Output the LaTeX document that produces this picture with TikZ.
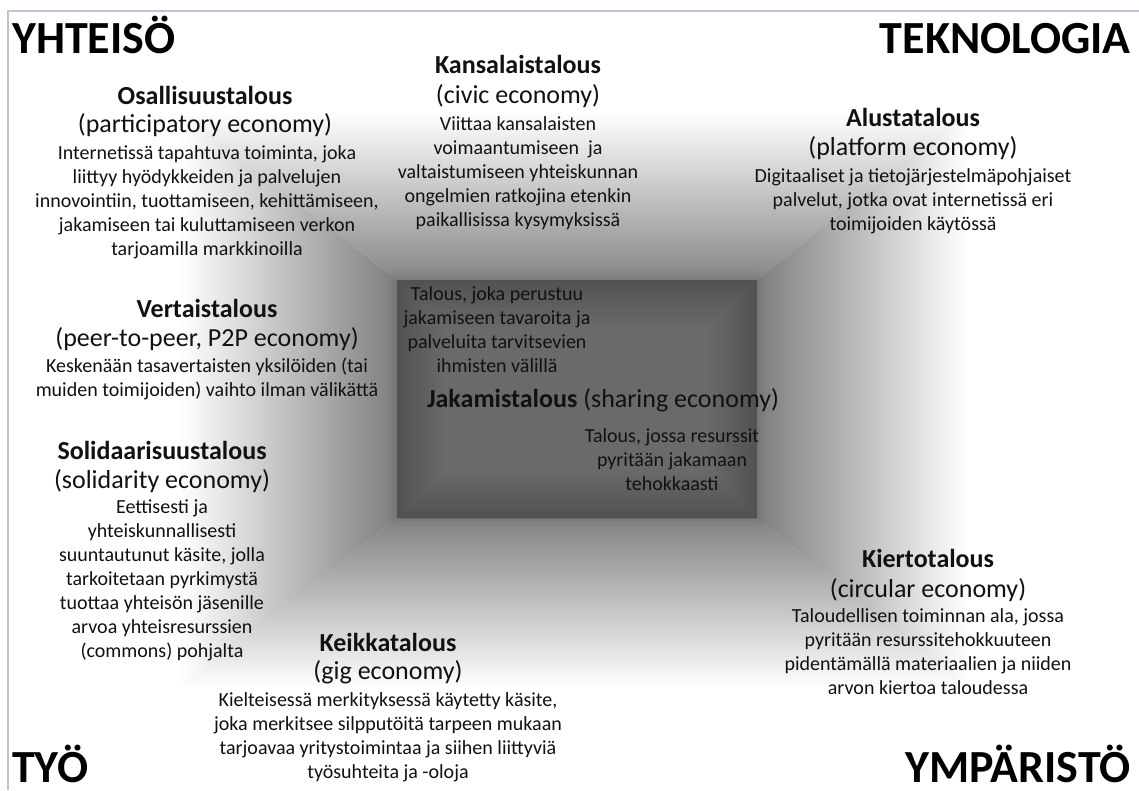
\documentclass[tikz,border=0pt]{standalone}
\usepackage{fontspec}
\setmainfont{Carlito}
\definecolor{ink}{HTML}{111111}
\definecolor{framec}{HTML}{B8C6D8}
\definecolor{topin}{HTML}{868686}
\definecolor{topmid}{HTML}{C2C2C2}
\definecolor{sidein}{HTML}{7E7E7E}
\definecolor{sidemid}{HTML}{C0C0C0}
\definecolor{botin}{HTML}{828282}
\definecolor{botmid}{HTML}{C2C2C2}
\definecolor{corefill}{HTML}{6A6A6A}
\begin{document}
\begin{tikzpicture}[x=1pt,y=-1pt,
  title/.style={font=\fontsize{26}{31}\selectfont\bfseries, inner sep=0pt, text=ink},
  sub/.style={font=\fontsize{26}{31}\selectfont, inner sep=0pt, text=ink},
  body/.style={font=\fontsize{20}{24}\selectfont, inner sep=0pt, align=center, text=ink, anchor=north},
  corner/.style={font=\fontsize{46}{54}\selectfont\bfseries, inner sep=0pt, text=black, anchor=base},
]
\useasboundingbox (0,0) rectangle (1139,790);
\fill[white] (0,0) rectangle (1139,790);

% outer and inner rectangle of the shaded box interior
\coordinate (oTL) at (180,112);
\coordinate (oTR) at (968,112);
\coordinate (oBR) at (968,688);
\coordinate (oBL) at (180,688);
\coordinate (iTL) at (397,280);
\coordinate (iTR) at (757,280);
\coordinate (iBR) at (757,518);
\coordinate (iBL) at (397,518);

% four bevelled walls
\shade[top color=white, middle color=topmid, bottom color=topin] (oTL) -- (oTR) -- (iTR) -- (iTL) -- cycle;
\shade[bottom color=white, middle color=botmid, top color=botin] (oBL) -- (oBR) -- (iBR) -- (iBL) -- cycle;
\shade[left color=white, middle color=sidemid, right color=sidein] (oTL) -- (iTL) -- (iBL) -- (oBL) -- cycle;
\shade[right color=white, middle color=sidemid, left color=sidein] (oTR) -- (iTR) -- (iBR) -- (oBR) -- cycle;

% back face with a soft dark rim, built from many faint strokes
\fill[corefill] (iTL) -- (iTR) -- (iBR) -- (iBL) -- cycle;
\begin{scope}
  \clip (iTL) -- (iTR) -- (iBR) -- (iBL) -- cycle;
  \foreach \i in {1,...,24}
    \draw[black, opacity=0.009, line width=4*\i pt] (iTL) -- (iTR) -- (iBR) -- (iBL) -- cycle;
\end{scope}
% blur the seam between walls and back face
\foreach \i in {1,...,8}
  \draw[corefill, opacity=0.035, line width=2.5*\i pt, line join=round] (iTL) -- (iTR) -- (iBR) -- (iBL) -- cycle;

% thin page frame
\coordinate (fBL) at (8,790);
\coordinate (fTL) at (8,11);
\coordinate (fTR) at (1139,11);
\draw[framec, line width=1.2pt] (fBL) -- (fTL) -- (fTR);

% corner headings
\node[corner, anchor=base west] (yhteiso) at (12,53) {YHTEISÖ};
\node[corner, anchor=base east] (teknologia) at (1131,53) {TEKNOLOGIA};
\node[corner, anchor=base west] (tyo) at (12,782) {TYÖ};
\node[corner, anchor=base east] (ymparisto) at (1131,782) {YMPÄRISTÖ};

% participatory economy
\node[title] (osa) at (205,95) {Osallisuustalous};
\node[sub] (osa-en) at (205,125) {(participatory economy)};
\node[body] (osa-txt) at (207,145) {Internetissä tapahtuva toiminta, joka\\liittyy hyödykkeiden ja palvelujen\\innovointiin, tuottamiseen, kehittämiseen,\\jakamiseen tai kuluttamiseen verkon\\tarjoamilla markkinoilla};

% civic economy
\node[title] (kan) at (518,64) {Kansalaistalous};
\node[sub] (kan-en) at (518,96) {(civic economy)};
\node[body] (kan-txt) at (518,116) {Viittaa kansalaisten\\voimaantumiseen\ \ ja\\valtaistumiseen yhteiskunnan\\ongelmien ratkojina etenkin\\paikallisissa kysymyksissä};

% platform economy
\node[title] (alu) at (913,117) {Alustatalous};
\node[sub] (alu-en) at (913,148) {(platform economy)};
\node[body] (alu-txt) at (913,168) {Digitaaliset ja tietojärjestelmäpohjaiset\\palvelut, jotka ovat internetissä eri\\toimijoiden käytössä};

% peer-to-peer economy
\node[title] (ver) at (207,308) {Vertaistalous};
\node[sub] (ver-en) at (207,339) {(peer-to-peer, P2P economy)};
\node[body] (ver-txt) at (207,358) {Keskenään tasavertaisten yksilöiden (tai\\muiden toimijoiden) vaihto ilman välikättä};

% solidarity economy
\node[title] (sol) at (162,450) {Solidaarisuustalous};
\node[sub] (sol-en) at (162,481) {(solidarity economy)};
\node[body] (sol-txt) at (162,499) {Eettisesti ja\\yhteiskunnallisesti\\suuntautunut käsite, jolla\\tarkoitetaan pyrkimystä\\tuottaa yhteisön jäsenille\\arvoa yhteisresurssien\\(commons) pohjalta};

% gig economy
\node[title] (kei) at (388,642) {Keikkatalous};
\node[sub] (kei-en) at (388,672) {(gig economy)};
\node[body] (kei-txt) at (388,692) {Kielteisessä merkityksessä käytetty käsite,\\joka merkitsee silpputöitä tarpeen mukaan\\tarjoavaa yritystoimintaa ja siihen liittyviä\\työsuhteita ja -oloja};

% circular economy
\node[title] (kie) at (928,558) {Kiertotalous};
\node[sub] (kie-en) at (928,590) {(circular economy)};
\node[body] (kie-txt) at (928,608) {Taloudellisen toiminnan ala, jossa\\pyritään resurssitehokkuuteen\\pidentämällä materiaalien ja niiden\\arvon kiertoa taloudessa};

% sharing economy in the centre
\node[body] (jak-a) at (497,286) {Talous, joka perustuu\\jakamiseen tavaroita ja\\palveluita tarvitsevien\\ihmisten välillä};
\node[sub] (jak) at (603,400) {\textbf{Jakamistalous} (sharing economy)};
\node[body] (jak-b) at (672,428) {Talous, jossa resurssit\\pyritään jakamaan\\tehokkaasti};
\end{tikzpicture}
\end{document}
